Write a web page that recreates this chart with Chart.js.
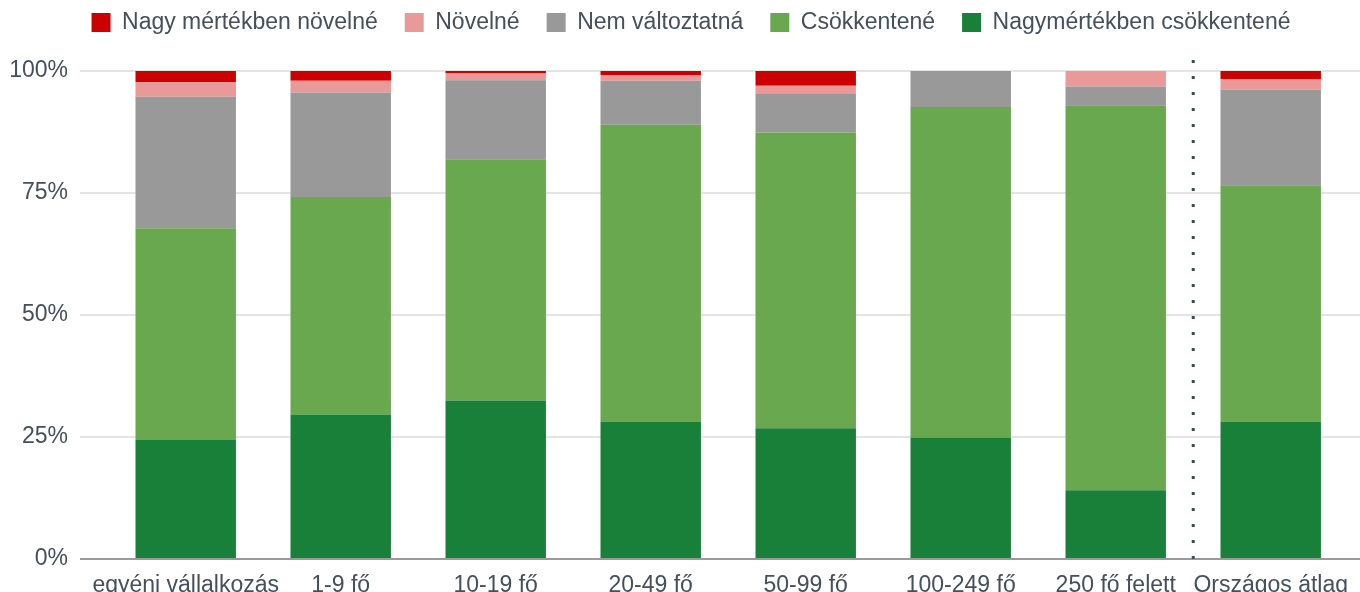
<!DOCTYPE html>
<html>
<head>
<meta charset="utf-8"/>
<title>Stacked bar</title>
<script src="https://cdn.jsdelivr.net/npm/chart.js"></script>
<style>
	html,body{margin:0;padding:0;background:#fff;}
	#wrap{width:1360px;height:592px;}
</style>
</head>
<body>
<div id="wrap"><canvas id="myChart"></canvas></div>
<script>
// categories (x)
const categories = ['egyéni vállalkozás','1-9 fő','10-19 fő','20-49 fő','50-99 fő','100-249 fő','250 fő felett','Országos átlag'];
// series values, %
const nagyCsokkentene = [24.4, 29.6, 32.5, 28.2, 26.8, 24.9, 14.1, 28.2];
const csokkentene     = [43.4, 44.6, 49.4, 60.8, 60.6, 67.7, 78.9, 48.4];
const nemValtoztatna  = [26.9, 21.4, 16.2,  9.0,  7.9,  7.4,  3.8, 19.6];
const novelne         = [ 3.0,  2.4,  1.5,  1.2,  1.7,  0.0,  3.3,  2.1];
const nagyNovelne     = [ 2.3,  2.0,  0.4,  0.8,  3.0,  0.0,  0.0,  1.7];
const yTicks = [0, 25, 50, 75, 100];

const FONT = {family: '"Liberation Sans", Arial, sans-serif', size: 23};
const TEXT = '#44505a';

function pts(arr){ return arr.map((v,i)=>({x:i, y:v})); }

// dotted divider before the national average
const divider = {
	id: 'divider',
	afterDraw(chart){
		const ctx = chart.ctx, x = chart.scales.x.getPixelForValue(categories.length - 1.5);
		ctx.save();
		ctx.strokeStyle = '#3d4b5e';
		ctx.lineWidth = 3;
		ctx.setLineDash([3, 13]);
		ctx.beginPath();
		ctx.moveTo(x, 60);
		ctx.lineTo(x, chart.chartArea.bottom);
		ctx.stroke();
		ctx.restore();
	}
};
// legend: fixed height, items pulled up a bit
const legendGap = {
	id: 'legendGap',
	beforeLayout(chart){
		const lg = chart.legend;
		if (lg && !lg._patched) {
			const fit = lg.fit;
			lg.fit = function(){ fit.call(this); this.height = 71; };
			lg._patched = true;
		}
	},
	afterLayout(chart){
		const lg = chart.legend;
		lg.top -= 16;
		lg.left += 11;
		lg.right += 11;
	}
};

new Chart(document.getElementById('myChart'), {
	type: 'bar',
	data: {
		datasets: [
			{label: 'Nagymértékben csökkentené', data: pts(nagyCsokkentene), backgroundColor: '#188038'},
			{label: 'Csökkentené', data: pts(csokkentene), backgroundColor: '#6aa84f'},
			{label: 'Nem változtatná', data: pts(nemValtoztatna), backgroundColor: '#999999'},
			{label: 'Növelné', data: pts(novelne), backgroundColor: '#ea9999'},
			{label: 'Nagy mértékben növelné', data: pts(nagyNovelne), backgroundColor: '#cc0000'}
		]
	},
	plugins: [divider, legendGap],
	options: {
		responsive: true,
		maintainAspectRatio: false,
		animation: false,
		layout: {padding: 0},
		datasets: {bar: {categoryPercentage: 1, barPercentage: 0.648, borderWidth: 0}},
		plugins: {
			legend: {
				reverse: true,
				labels: {boxWidth: 19, boxHeight: 19, padding: 27, color: TEXT, font: FONT}
			},
			tooltip: {enabled: false}
		},
		scales: {
			x: {
				type: 'linear',
				stacked: true,
				offset: false,
				min: -0.682,
				max: 7.576,
				afterBuildTicks: s => { s.ticks = categories.map((c,i)=>({value: i})); },
				afterFit: s => { s.height = 33; },
				grid: {display: false},
				border: {display: false},
				ticks: {
					autoSkip: false, maxRotation: 0, padding: 5, color: TEXT, font: FONT,
					callback: v => categories[v]
				}
			},
			y: {
				stacked: true,
				min: 0,
				max: 100,
				afterBuildTicks: s => { s.ticks = yTicks.map(v=>({value: v})); },
				afterFit: s => { s.width = 80; },
				border: {display: false},
				grid: {
					drawTicks: false,
					lineWidth: 2,
					color: c => c.tick && c.tick.value === 0 ? '#9a9a9a' : '#e4e4e4'
				},
				ticks: {padding: 12, color: TEXT, font: FONT, callback: v => v + '%'}
			}
		}
	}
});
</script>
</body>
</html>
